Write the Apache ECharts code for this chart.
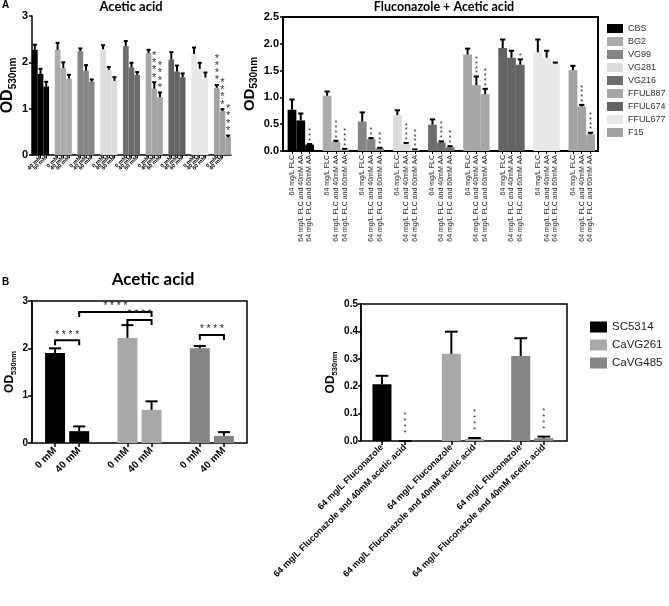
<!DOCTYPE html>
<html><head><meta charset="utf-8">
<script src="https://cdn.jsdelivr.net/npm/echarts@6/dist/echarts.min.js"></script>
<style>html,body{margin:0;padding:0;background:#fff}#c{width:669px;height:606px}</style>
</head><body><div id="c"></div>
<script>
// ---------- Panel A data ----------
const strainsA = ['CBS','BG2','VG99','VG281','VG216','FFUL887','FFUL674','FFUL677','F15'];
const colorsA  = ['#000000','#ababab','#858585','#dcdcdc','#6c6c6c','#a6a6a6','#636363','#e8e8e8','#a2a2a2'];

// A left: acetic acid
const acetDoses   = ['0 mM','40 mM','60 mM'];
const acet0       = [2.27,2.27,2.24,2.28,2.35,2.20,2.06,2.18,1.45];
const acet0Err    = [0.11,0.15,0.06,0.09,0.11,0.07,0.16,0.14,0.06];
const acet40      = [1.75,1.88,1.82,1.84,1.89,1.43,1.80,1.86,0.95];
const acet40Err   = [0.11,0.12,0.12,0.06,0.10,0.14,0.13,0.13,0.04];
const acet60      = [1.48,1.65,1.58,1.60,1.73,1.25,1.68,1.67,0.38];
const acet60Err   = [0.10,0.08,0.05,0.08,0.06,0.10,0.08,0.11,0.04];
const acetStars0  = [0,0,0,0,0,0,0,0,4];
const acetStars40 = [0,0,0,0,0,4,0,0,4];
const acetStars60 = [0,0,0,0,0,4,0,0,4];
const acetTicks   = [0,1,2,3];

// A right: fluconazole + acetic acid
const flcConds   = ['64 mg/L FLC','64 mg/L FLC and 40mM AA','64 mg/L FLC and 60mM AA'];
const flc        = [0.77,1.03,0.55,0.67,0.49,1.80,1.92,1.84,1.51];
const flcErr     = [0.19,0.08,0.17,0.09,0.10,0.11,0.16,0.24,0.08];
const flc40      = [0.57,0.17,0.22,0.13,0.16,1.23,1.74,1.74,0.83];
const flc40Err   = [0.13,0.02,0.02,0.02,0.02,0.16,0.13,0.13,0.03];
const flc60      = [0.12,0.03,0.05,0.02,0.07,1.06,1.61,1.63,0.31];
const flc60Err   = [0.01,0.01,0.01,0.01,0.02,0.10,0.10,0.02,0.03];
const flcStars   = [0,0,0,0,0,0,0,0,0];
const flcStars40 = [0,4,2,4,4,4,0,0,4];
const flcStars60 = [3,4,3,4,3,4,1,0,4];

// ---------- Panel B data ----------
const strainsB = ['SC5314','CaVG261','CaVG485'];
const colorsB  = ['#000000','#a8a8a8','#858585'];
const bDoses   = ['0 mM','40 mM'];
const b0       = [1.90,2.22,2.00];
const b0Err    = [0.10,0.27,0.05];
const b40      = [0.25,0.70,0.15];
const b40Err   = [0.10,0.18,0.08];
// brackets: [strainA, doseA, strainB, doseB, height]
const bBrackets = [[0,0,0,1,2.17],[0,1,1,1,2.77],[1,0,1,1,2.60],[2,0,2,1,2.28]];

const bFlcConds   = ['64 mg/L Fluconazole','64 mg/L Fluconazole and 40mM acetic acid'];
const bFlc        = [0.207,0.318,0.310];
const bFlcErr     = [0.031,0.081,0.065];
const bFlcAA      = [0.0,0.008,0.010];
const bFlcAAErr   = [0.0,0.003,0.006];
const bFlcAAStars = [4,4,4];

// ---------- helpers ----------
const F = "'Liberation Sans', Arial, sans-serif";
const TF = "Lato, 'Open Sans', sans-serif";

function buildCats(strains, conds){
  const cats = [];
  strains.forEach((s, si) => {
    conds.forEach(c => cats.push(s + '|' + c));
    if (si < strains.length - 1) cats.push('gap' + si);
  });
  return cats;
}
function idx(si, ci, nc){ return si * (nc + 1) + ci; }
const isReal = (i, v) => !String(v).startsWith('gap');
const catLabel = v => String(v).startsWith('gap') ? '' : String(v).split('|')[1];

function barSeries(strains, colors, cats, condVals, xi, yi, width){
  const nc = condVals.length;
  return strains.map((s, si) => {
    const d = cats.map(() => '-');
    condVals.forEach((vals, ci) => { d[idx(si, ci, nc)] = vals[si]; });
    return {
      type:'bar', name:s, data:d, xAxisIndex:xi, yAxisIndex:yi,
      barGap:'-100%', barCategoryGap:'0%', barWidth:width,
      itemStyle:{color:colors[si]}, emphasis:{disabled:true}, z:2
    };
  });
}
function errSeries(strains, condVals, condErrs, xi, yi, capFrac, lw){
  const nc = condVals.length, data = [];
  strains.forEach((s, si) => condVals.forEach((vals, ci) => {
    data.push([idx(si, ci, nc), vals[si], condErrs[ci][si]]);
  }));
  return {
    type:'custom', xAxisIndex:xi, yAxisIndex:yi, data, z:5, silent:true,
    renderItem(params, api){
      const i = api.value(0), v = api.value(1), e = api.value(2);
      const p0 = api.coord([i, v]), p1 = api.coord([i, v + e]);
      const cw = api.size([1, 0])[0] * capFrac;
      return {type:'group', children:[
        {type:'line', shape:{x1:p0[0], y1:p0[1], x2:p1[0], y2:p1[1]}, style:{stroke:'#000', lineWidth:lw}},
        {type:'line', shape:{x1:p1[0]-cw/2, y1:p1[1], x2:p1[0]+cw/2, y2:p1[1]}, style:{stroke:'#000', lineWidth:lw}}
      ]};
    }
  };
}
function starSeries(strains, condVals, condErrs, condStars, xi, yi, fs, lh, gap, color){
  const nc = condVals.length, data = [];
  strains.forEach((s, si) => condVals.forEach((vals, ci) => {
    const n = condStars[ci][si];
    if (n > 0) data.push([idx(si, ci, nc), vals[si] + condErrs[ci][si], n]);
  }));
  return {
    type:'custom', xAxisIndex:xi, yAxisIndex:yi, data, z:6, silent:true,
    renderItem(params, api){
      const i = api.value(0), top = api.value(1), n = api.value(2);
      const p = api.coord([i, top]);
      return {type:'text', x:p[0], y:p[1] - gap, style:{
        text: new Array(n).fill('*').join('\n'), fontSize:fs, lineHeight:lh,
        fontFamily:F, fill:color, align:'center', verticalAlign:'bottom'}};
    }
  };
}

function odName(big, small, pad){
  return {
    name:'{a|OD}{b|530nm}', nameLocation:'middle', nameRotate:90,
    nameTextStyle:{rich:{
      a:{fontSize:big, fontWeight:'bold', fontFamily:F, color:'#000', verticalAlign:'top', lineHeight:big+2},
      b:{fontSize:small, fontWeight:'bold', fontFamily:F, color:'#000', verticalAlign:'bottom', lineHeight:small+1, padding:[pad,0,0,0]}
    }}
  };
}

const catsAL = buildCats(strainsA, acetDoses);
const catsAR = buildCats(strainsA, flcConds);
const catsBL = buildCats(strainsB, bDoses);
const catsBR = buildCats(strainsB, bFlcConds);

const axLine = w => ({show:true, lineStyle:{color:'#000', width:w}});
const hiddenVal = (gi, mn, mx) => ({type:'value', gridIndex:gi, min:mn, max:mx, show:false});

const option = {
  animation:false,
  backgroundColor:'#fff',
  title:[
    {text:'A', left:2, top:0, padding:0, textStyle:{fontSize:10, fontWeight:'bold', fontFamily:F, color:'#000'}},
    {text:'Acetic acid', left:131, top:0, padding:0, textAlign:'center', textStyle:{fontSize:13, fontWeight:'bold', fontFamily:TF, color:'#000'}},
    {text:'Fluconazole + Acetic acid', left:444, top:0, padding:0, textAlign:'center', textStyle:{fontSize:12.5, fontWeight:'bold', fontFamily:TF, color:'#000'}},
    {text:'B', left:2, top:277, padding:0, textStyle:{fontSize:10, fontWeight:'bold', fontFamily:F, color:'#000'}},
    {text:'Acetic acid', left:153, top:271, padding:0, textAlign:'center', textStyle:{fontSize:17, fontWeight:'bold', fontFamily:TF, color:'#000'}}
  ],
  legend:[
    {data:strainsA, orient:'vertical', left:607, top:24, itemWidth:16, itemHeight:9, itemGap:4,
     icon:'rect', selectedMode:false, padding:0, textStyle:{fontSize:9, fontFamily:F, color:'#333'}},
    {data:strainsB, orient:'vertical', left:590, top:321, itemWidth:17, itemHeight:11, itemGap:6,
     icon:'rect', selectedMode:false, padding:0, textStyle:{fontSize:11.5, fontFamily:F, color:'#222'}}
  ],
  grid:[
    {left:32, top:16, width:199, height:139, outerBoundsMode:'none'},                                   // 0 A left
    {left:283, top:17, width:315, height:134, show:true, borderColor:'#000', borderWidth:2, outerBoundsMode:'none'}, // 1 A right box
    {left:287.6, top:17, width:307.3, height:134, outerBoundsMode:'none'},                               // 2 A right bars
    {left:32, top:301, width:215, height:142, show:true, borderColor:'#000', borderWidth:1.5, outerBoundsMode:'none'}, // 3 B left box
    {left:43, top:301, width:193, height:142, outerBoundsMode:'none'},                                   // 4 B left bars
    {left:361, top:304, width:206, height:137, show:true, borderColor:'#000', borderWidth:1.5, outerBoundsMode:'none'},// 5 B right box
    {left:370.4, top:304, width:185, height:137, outerBoundsMode:'none'}                                 // 6 B right bars
  ],
  xAxis:[
    {type:'category', gridIndex:0, data:catsAL, axisLine:axLine(1.5),
     axisTick:{show:true, alignWithLabel:true, interval:isReal, length:3, lineStyle:{color:'#000', width:1}},
     axisLabel:{interval:isReal, formatter:catLabel, rotate:45, fontSize:5.5, fontWeight:'bold', fontFamily:F, color:'#000', margin:2}},
    hiddenVal(1, 0, 1),
    {type:'category', gridIndex:2, data:catsAR, axisLine:{show:false},
     axisTick:{show:true, alignWithLabel:true, interval:isReal, length:3, lineStyle:{color:'#000', width:1}},
     axisLabel:{interval:isReal, formatter:catLabel, rotate:90, fontSize:7, fontFamily:F, color:'#222', margin:4}},
    hiddenVal(3, 0, 1),
    {type:'category', gridIndex:4, data:catsBL, axisLine:{show:false},
     axisTick:{show:true, alignWithLabel:true, interval:isReal, length:4, lineStyle:{color:'#000', width:1.5}},
     axisLabel:{interval:isReal, formatter:catLabel, rotate:45, fontSize:10, fontWeight:'bold', fontFamily:F, color:'#000', margin:6}},
    hiddenVal(5, 0, 1),
    {type:'category', gridIndex:6, data:catsBR, axisLine:{show:false},
     axisTick:{show:true, alignWithLabel:true, interval:isReal, length:4, lineStyle:{color:'#000', width:1.5}},
     axisLabel:{interval:isReal, formatter:catLabel, rotate:45, fontSize:9, fontWeight:'bold', fontFamily:F, color:'#000', margin:5}}
  ],
  yAxis:[
    Object.assign({type:'value', gridIndex:0, min:acetTicks[0], max:acetTicks[acetTicks.length-1], interval:1,
     axisLine:axLine(1.5), axisTick:{show:true, length:3, lineStyle:{color:'#000', width:1.5}},
     axisLabel:{fontSize:11, fontWeight:'bold', fontFamily:F, color:'#000', margin:4}, splitLine:{show:false}, nameGap:11},
     odName(16, 10, 11)),
    Object.assign({type:'value', gridIndex:1, min:0, max:2.5, interval:0.5,
     axisLine:axLine(2), axisTick:{show:true, length:3, lineStyle:{color:'#000', width:1.5}},
     axisLabel:{fontSize:11, fontWeight:'bold', fontFamily:F, color:'#000', margin:4, formatter:v => v.toFixed(1)},
     splitLine:{show:false}, nameGap:24}, odName(15, 10, 10)),
    hiddenVal(2, 0, 2.5),
    Object.assign({type:'value', gridIndex:3, min:0, max:3, interval:1,
     axisLine:axLine(1.5), axisTick:{show:true, length:4, lineStyle:{color:'#000', width:1.5}},
     axisLabel:{fontSize:10, fontWeight:'bold', fontFamily:F, color:'#000', margin:4},
     splitLine:{show:false}, nameGap:14}, odName(12, 7.5, 7)),
    hiddenVal(4, 0, 3),
    Object.assign({type:'value', gridIndex:5, min:0, max:0.5, interval:0.1,
     axisLine:axLine(1.5), axisTick:{show:true, length:3, lineStyle:{color:'#000', width:1.5}},
     axisLabel:{fontSize:10, fontWeight:'bold', fontFamily:F, color:'#000', margin:3, formatter:v => v.toFixed(1)},
     splitLine:{show:false}, nameGap:22}, odName(12, 7.5, 7)),
    hiddenVal(6, 0, 0.5)
  ],
  series:[]
};

// Panel A left
option.series.push(...barSeries(strainsA, colorsA, catsAL, [acet0, acet40, acet60], 0, 0, '100%'));
option.series.push(errSeries(strainsA, [acet0, acet40, acet60], [acet0Err, acet40Err, acet60Err], 0, 0, 0.7, 2));
option.series.push(starSeries(strainsA, [acet0, acet40, acet60], [acet0Err, acet40Err, acet60Err],
  [acetStars0, acetStars40, acetStars60], 0, 0, 11, 7.3, 1, '#333'));
// Panel A right
option.series.push(...barSeries(strainsA, colorsA, catsAR, [flc, flc40, flc60], 2, 2, '100%'));
option.series.push(errSeries(strainsA, [flc, flc40, flc60], [flcErr, flc40Err, flc60Err], 2, 2, 0.6, 2));
option.series.push(starSeries(strainsA, [flc, flc40, flc60], [flcErr, flc40Err, flc60Err],
  [flcStars, flcStars40, flcStars60], 2, 2, 7.5, 4.7, 1, '#333'));
// Panel B left
option.series.push(...barSeries(strainsB, colorsB, catsBL, [b0, b40], 4, 4, 20));
option.series.push(errSeries(strainsB, [b0, b40], [b0Err, b40Err], 4, 4, 0.5, 2));
option.series.push({
  type:'custom', xAxisIndex:4, yAxisIndex:4, z:6, silent:true,
  data: bBrackets.map(b => [idx(b[0], b[1], bDoses.length), idx(b[2], b[3], bDoses.length), b[4]]),
  renderItem(params, api){
    const i1 = api.value(0), i2 = api.value(1), y = api.value(2);
    const a = api.coord([i1, y]), b = api.coord([i2, y]);
    const h = 5;
    return {type:'group', children:[
      {type:'polyline', shape:{points:[[a[0], a[1]+h],[a[0], a[1]],[b[0], b[1]],[b[0], b[1]+h]]},
       style:{stroke:'#000', lineWidth:2, fill:null}},
      {type:'text', x:(a[0]+b[0])/2, y:a[1]-0.5, style:{text:'* * * *', fontSize:10, fontFamily:F, fill:'#222', align:'center', verticalAlign:'bottom'}}
    ]};
  }
});
// Panel B right
option.series.push(...barSeries(strainsB, colorsB, catsBR, [bFlc, bFlcAA], 6, 6, 19));
option.series.push(errSeries(strainsB, [bFlc, bFlcAA], [bFlcErr, bFlcAAErr], 6, 6, 0.55, 2));
option.series.push(starSeries(strainsB, [bFlc, bFlcAA], [bFlcErr, bFlcAAErr],
  [[0,0,0], bFlcAAStars], 6, 6, 8, 6, 5, '#333'));

const chart = echarts.init(document.getElementById('c'), null, {renderer:'canvas'});
chart.setOption(option);
</script></body></html>
